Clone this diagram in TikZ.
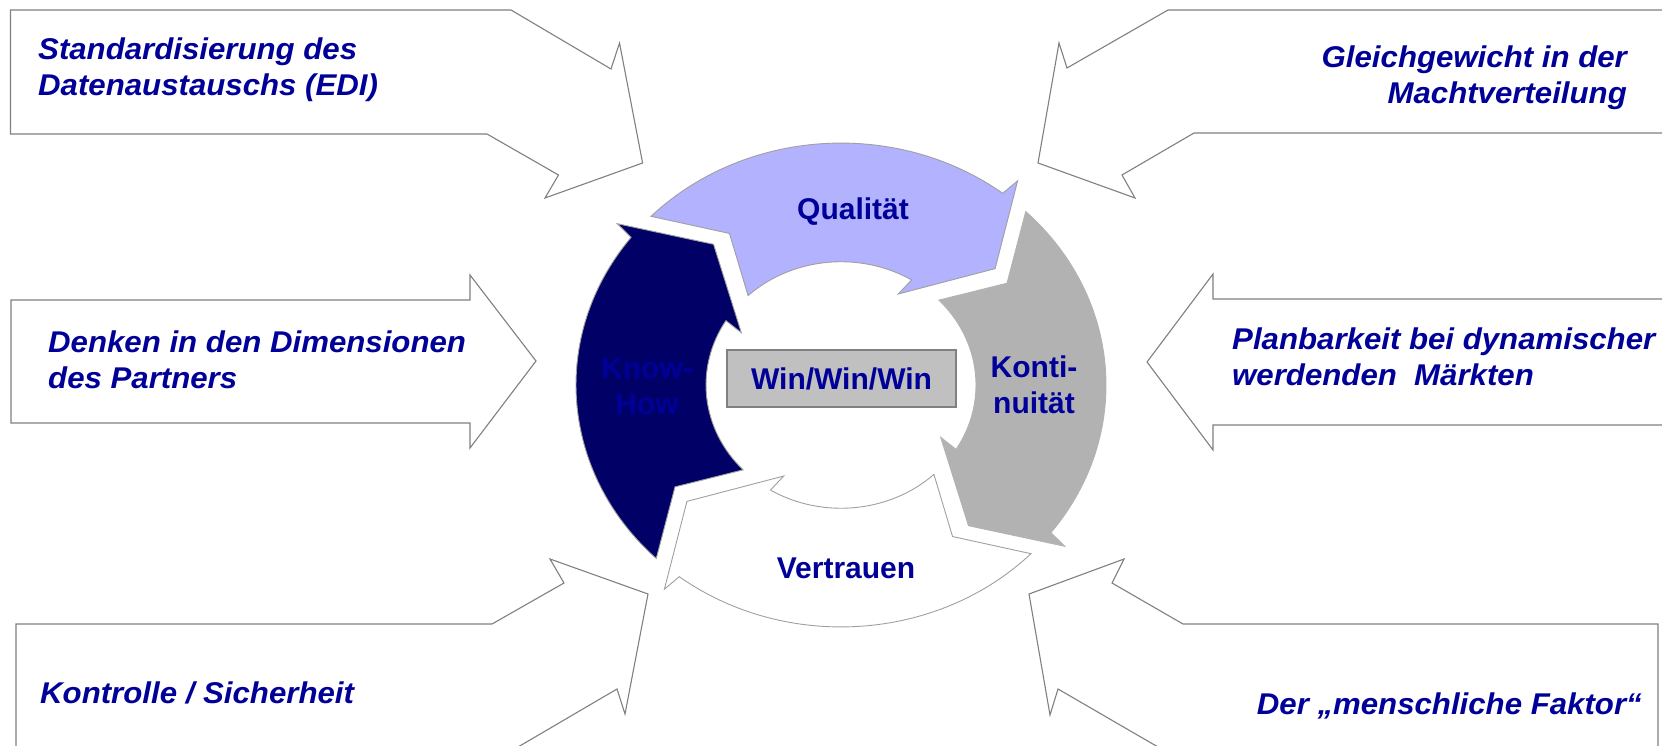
\documentclass[tikz,border=0pt]{standalone}
\usepackage{fontspec}
\setmainfont{Liberation Sans}
\newfontfamily\sidefont[FakeStretch=1.04]{Liberation Sans}

\definecolor{labelblue}{RGB}{0,0,153}
\definecolor{edgegray}{RGB}{128,128,128}
\definecolor{ringedge}{RGB}{160,160,160}
\definecolor{qualfill}{RGB}{178,178,255}
\definecolor{kontfill}{RGB}{178,178,178}
\definecolor{knowfill}{RGB}{0,0,102}
\definecolor{boxfill}{RGB}{192,192,192}

\tikzset{
  % one segment of the cycle, drawn in its left position (tail at the bottom, head at the top)
  cyclearrow/.pic={
    \path[pic actions]
      (225.8:265) arc[start angle=225.8, end angle=142.4, radius=265]
      -- (141.7:285) -- (129.6:200) -- (150.1:115) -- (148.5:135)
      arc[start angle=148.5, end angle=223.5, radius=135]
      -- (213.9:200) -- cycle;
  }
}

\begin{document}
\begin{tikzpicture}[x=1pt, y=-1pt,
  outerarrow/.style={draw=edgegray, line width=1.1pt, fill=white, line join=miter},
  ringarrow/.style={transform shape, draw=ringedge, line width=0.9pt, line join=miter},
  outlabel/.style={text=labelblue, inner sep=0pt,
    font=\sidefont\fontsize{30}{36}\selectfont\bfseries\itshape},
  ringlabel/.style={text=labelblue, inner sep=0pt, align=center,
    font=\fontsize{30}{36}\selectfont\bfseries},
]
\useasboundingbox (0,0) rectangle (1662,746);

% ---- influence arrows around the cycle ----
\path[outerarrow] (10.5,10) -- (511,10) -- (611,69) -- (619.5,43) -- (642.6,163)
  -- (545,198) -- (558.5,175) -- (487,134) -- (10.5,134) -- cycle;
\path[outerarrow] (1663,10) -- (1168,10) -- (1067,68) -- (1059,43) -- (1038,163)
  -- (1135,198) -- (1122,175) -- (1194,133) -- (1663,133);
\path[outerarrow] (11,300) -- (470,300) -- (470,275) -- (536,361) -- (470,448)
  -- (470,423) -- (11,423) -- cycle;
\path[outerarrow] (1663,299) -- (1213,299) -- (1213,274) -- (1147,362) -- (1213,450)
  -- (1213,425) -- (1663,425);
\path[outerarrow] (16,747) -- (16,624) -- (492,624) -- (564,583) -- (550,559)
  -- (648,594) -- (625,714) -- (617,689) -- (518,747);
\path[outerarrow] (1658,747) -- (1658,624) -- (1183,624) -- (1112,583) -- (1124,559)
  -- (1029,594) -- (1050,715) -- (1058,689) -- (1158,747);

% ---- the cycle of four arrows (left, top, right, bottom) ----
\begin{scope}[shift={(841,385)}, yscale=-0.913]
  \pic[ringarrow, fill=knowfill] {cyclearrow};
  \pic[rotate=90, ringarrow, fill=qualfill] {cyclearrow};
  \pic[rotate=180, ringarrow, draw=kontfill, fill=kontfill] {cyclearrow};
  \pic[rotate=-90, ringarrow, fill=white] {cyclearrow};
\end{scope}

% ---- centre box ----
\node[draw=edgegray, line width=1.5pt, fill=boxfill, minimum width=229pt,
  minimum height=57pt, inner sep=0pt, text=labelblue,
  font=\fontsize{30}{36}\selectfont\bfseries] (win) at (841.5,378.5) {Win/Win/Win};

% ---- labels of the cycle ----
\node[ringlabel] (qual) at (853,212) {Qualität};
\node[ringlabel] (kont) at (1034,385) {Konti-\\nuität};
\node[ringlabel] (know) at (647,386) {Know-\\How};
\node[ringlabel] (vert) at (846,568) {Vertrauen};

% ---- labels of the influence arrows ----
\node[outlabel, anchor=west, align=left] (tl) at (38,70) {Standardisierung des\\Datenaustauschs (EDI)};
\node[outlabel, anchor=east, align=right] (tr) at (1627,78) {Gleichgewicht in der\\Machtverteilung};
\node[outlabel, anchor=west, align=left] (ml) at (48,360) {Denken in den Dimensionen\\des Partners};
\node[outlabel, anchor=west, align=left] (mr) at (1232,356.5) {Planbarkeit bei dynamischer\\werdenden\ \ Märkten};
\node[outlabel, anchor=west] (bl) at (40,693) {Kontrolle / Sicherheit};
\node[outlabel, anchor=east] (br) at (1642,706) {Der „menschliche Faktor“};
\end{tikzpicture}
\end{document}
